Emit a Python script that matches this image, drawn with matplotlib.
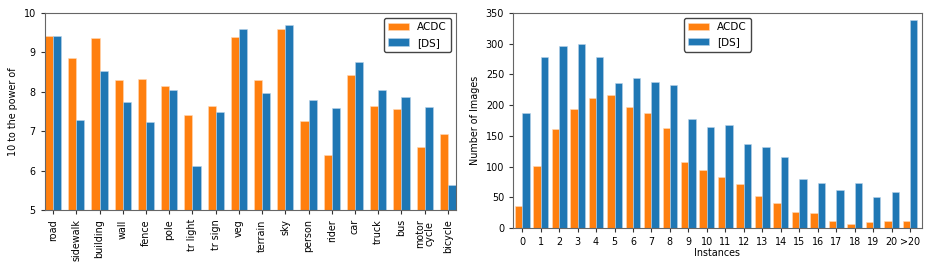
import matplotlib
matplotlib.use("Agg")
import matplotlib.pyplot as plt
import numpy as np

classes = ["road", "sidewalk", "building", "wall", "fence", "pole", "tr light", "tr sign",
           "veg", "terrain", "sky", "person", "rider", "car", "truck", "bus", "motor\ncycle", "bicycle"]
acdc_pix = [9.42, 8.87, 9.36, 8.29, 8.34, 8.14, 7.42, 7.64, 9.39, 8.29, 9.59, 7.25, 6.39, 8.42,
            7.63, 7.57, 6.61, 6.92]
ds_pix = [9.42, 7.28, 8.52, 7.74, 7.23, 8.04, 6.11, 7.49, 9.59, 7.97, 9.69, 7.79, 7.59, 8.75,
          8.06, 7.88, 7.61, 5.64]

inst_labels = [str(i) for i in range(21)] + [">20"]
acdc_inst = [35, 101, 161, 193, 211, 216, 197, 187, 162, 107, 94, 83, 72, 52, 41, 26, 24, 11, 7, 10, 12, 12]
ds_inst = [187, 278, 296, 300, 278, 236, 244, 237, 232, 178, 165, 168, 136, 132, 116, 79, 73, 62, 74, 51, 58, 339]

orange = "#ff7f0e"
blue = "#1f77b4"
fs = 6.9
lfs = 7.5

fig = plt.figure(figsize=(9.33, 2.67), dpi=100)
ax1 = fig.add_axes([0.048, 0.213, 0.441, 0.738])
ax2 = fig.add_axes([0.550, 0.146, 0.438, 0.806])

for ax in (ax1, ax2):
    for s in ax.spines.values():
        s.set_color("#666666")
    ax.tick_params(labelsize=fs, length=3, width=0.8, color="#333333")

# left chart
x = np.arange(len(classes))
w = 0.35
ax1.bar(x - w / 2, acdc_pix, w, color=orange, label="ACDC", edgecolor="#ffd9b8", linewidth=0.4)
ax1.bar(x + w / 2, ds_pix, w, color=blue, label="[DS]", edgecolor="#b9d3e8", linewidth=0.4)
ax1.set_ylim(5, 10)
ax1.set_xlim(-0.36, len(classes) - 1 + 0.36)
ax1.set_xticks(x)
ax1.set_xticklabels(classes, rotation=90, fontsize=fs, linespacing=1.0)
ax1.set_yticks([5, 6, 7, 8, 9, 10])
ax1.set_ylabel("10 to the power of", fontsize=fs)
leg1 = ax1.legend(loc="upper right", fontsize=lfs, fancybox=True, framealpha=1)
leg1.get_frame().set_edgecolor("#444444")

# right chart
x2 = np.arange(len(inst_labels))
w2 = 0.4
ax2.bar(x2 - w2 / 2, acdc_inst, w2, color=orange, label="ACDC", edgecolor="#ffd9b8", linewidth=0.4)
ax2.bar(x2 + w2 / 2, ds_inst, w2, color=blue, label="[DS]", edgecolor="#b9d3e8", linewidth=0.4)
ax2.set_ylim(0, 350)
ax2.set_xlim(-0.49, len(inst_labels) - 1 + 0.64)
ax2.set_xticks(x2)
ax2.set_xticklabels(inst_labels, fontsize=fs)
ax2.set_yticks(range(0, 351, 50))
ax2.set_ylabel("Number of Images", fontsize=fs)
ax2.set_xlabel("Instances", fontsize=fs, labelpad=1)
leg2 = ax2.legend(loc="upper center", fontsize=lfs, fancybox=True, framealpha=1)
leg2.get_frame().set_edgecolor("#444444")

fig.savefig("out.png", dpi=100)
